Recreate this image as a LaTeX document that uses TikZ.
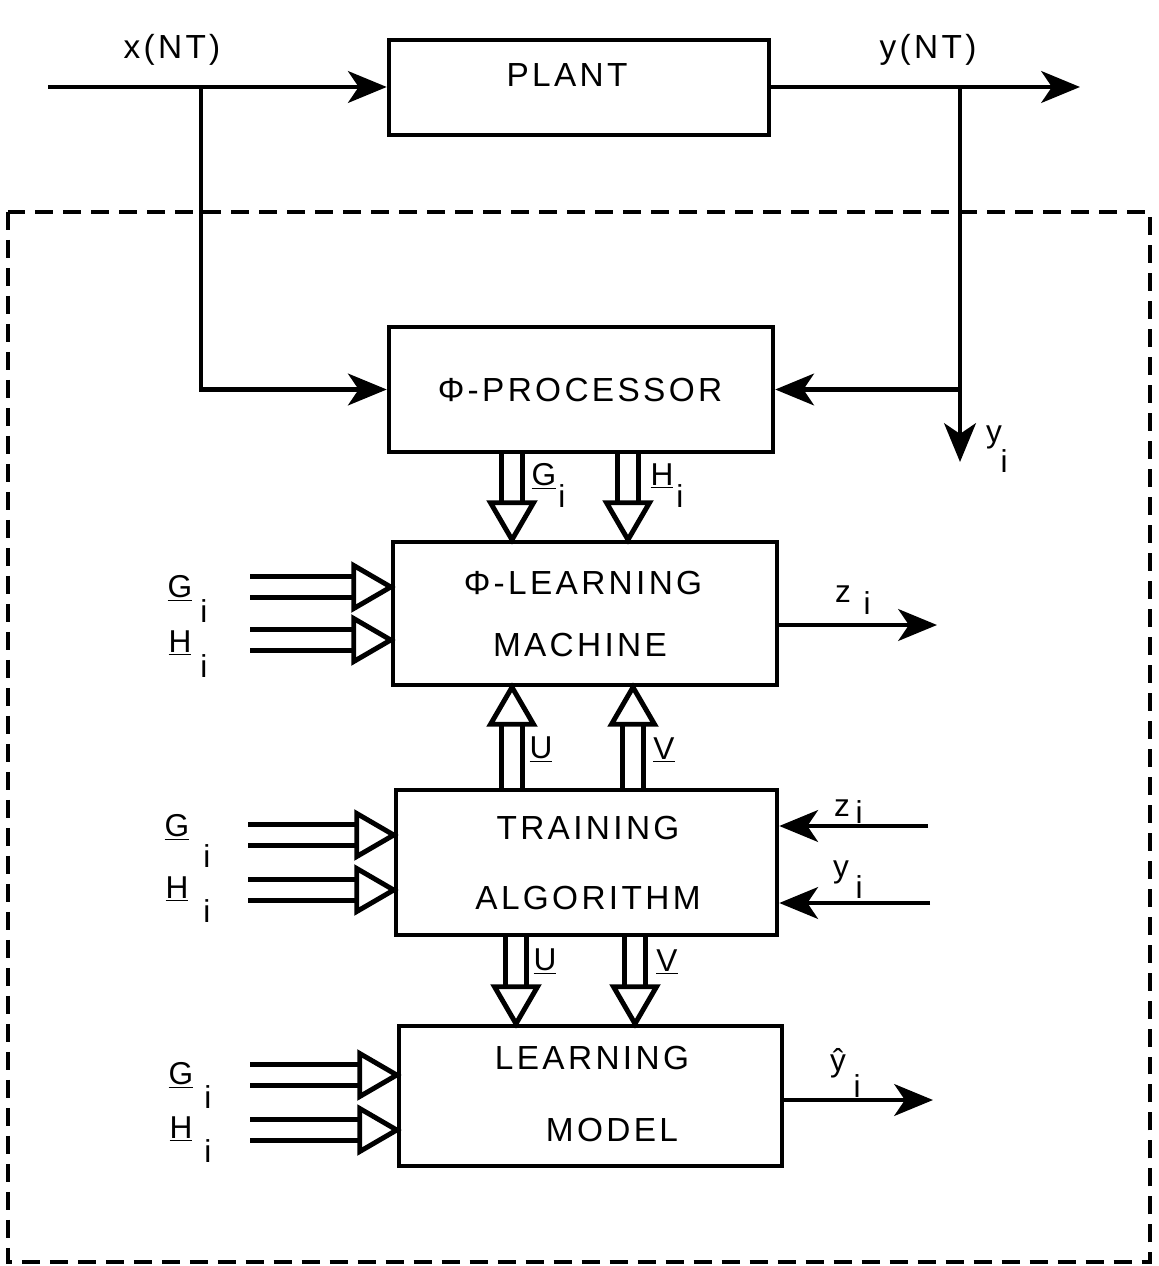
\documentclass[tikz,border=0pt]{standalone}
\usepackage{fontspec}
\setmainfont{Liberation Sans}[LetterSpace=10]
\usetikzlibrary{arrows.meta,calc}

\newcommand\hollowarrow[2]{%
  \coordinate (haS) at (#1);
  \coordinate (haE) at (#2);
  \coordinate (haB) at ($(haE)!0.74cm!(haS)$);
  \draw[hol] ($(haS)!0.21cm!90:(haE)$) -- ($(haB)!0.21cm!-90:(haS)$);
  \draw[hol] ($(haS)!0.21cm!-90:(haE)$) -- ($(haB)!0.21cm!90:(haS)$);
  \draw[hol,line join=miter] ($(haB)!0.43cm!90:(haS)$) -- (haE) -- ($(haB)!0.43cm!-90:(haS)$) -- cycle;
}

\begin{document}
\begin{tikzpicture}[x=0.02cm,y=-0.02cm,line width=2.8pt,
  box/.style={draw,line width=2.6pt,inner sep=0pt},
  txt/.style={inner sep=0pt,font=\fontsize{19}{23}\selectfont},
  lbl/.style={inner sep=0pt,font=\fontsize{18}{20}\selectfont},
  arr/.style={-{Stealth[length=22pt,width=18pt,inset=6pt]}},
  hol/.style={line width=2.8pt},
  frame/.style={line width=2.4pt,dash pattern=on 0.36cm off 0.2cm}]
\useasboundingbox (0,0) rectangle (1158,1266);

% boxes
\node[box,minimum width=7.6cm,minimum height=1.9cm] (plant) at (579,87.5) {};
\node[box,minimum width=7.68cm,minimum height=2.5cm] (proc) at (581,389.5) {};
\node[box,minimum width=7.68cm,minimum height=2.86cm] (lm) at (585,613.5) {};
\node[box,minimum width=7.62cm,minimum height=2.9cm] (ta) at (586.5,862.5) {};
\node[box,minimum width=7.66cm,minimum height=2.8cm] (mod) at (590.5,1096) {};

% box texts
\node[txt] (tplant) at (567,75) {PLANT};
\node[txt] (tproc) at (580,390) {Φ-PROCESSOR};
\node[txt] (tlm1) at (583,583) {Φ-LEARNING};
\node[txt] (tlm2) at (580,645) {MACHINE};
\node[txt] (tta1) at (588,828) {TRAINING};
\node[txt] (tta2) at (588,898) {ALGORITHM};
\node[txt] (tmod1) at (592,1058) {LEARNING};
\node[txt] (tmod2) at (612,1130) {MODEL};

% dashed frame
\draw[frame] (8,212) rectangle (1150,1262);

% plant signals
\node[txt] (lx) at (172,50) {x(NT)};
\node[txt] (ly) at (928,50) {y(NT)};
\coordinate (xin) at (48,87);
\draw[arr] (xin) -- (xin -| plant.west);
\coordinate (xbr) at (201,87);
\draw[arr] (xbr) |- (proc.west);
\coordinate (yout) at (1080,87);
\draw[arr] (yout -| plant.east) -- (yout);
\coordinate (ybr) at (960,87);
\coordinate (yiend) at (960,462);
\draw[arr] (ybr) -- (yiend);
\draw[arr] (ybr |- proc.east) -- (proc.east);
\node[lbl] (lyi) at (994,437) {y};
\node[lbl] (lyii) at (1004,461) {i};

% processor -> learning machine
\hollowarrow{512,0 |- proc.south}{512,0 |- lm.north}
\hollowarrow{628,0 |- proc.south}{628,0 |- lm.north}
\node[lbl] (pg) at (544,476) {\underline{G}};
\node[lbl] (pgi) at (562,496) {i};
\node[lbl] (ph) at (662,476) {\underline{H}};
\node[lbl] (phi) at (680,496) {i};

% learning machine inputs
\hollowarrow{250,587}{250,587 -| lm.west}
\hollowarrow{250,640}{250,640 -| lm.west}
\node[lbl] (lmg) at (180,588) {\underline{G}};
\node[lbl] (lmgi) at (204,611) {i};
\node[lbl] (lmh) at (180,643) {\underline{H}};
\node[lbl] (lmhi) at (204,666) {i};
\coordinate (zout) at (937,625);
\draw[arr] (zout -| lm.east) -- (zout);
\node[lbl] (lz) at (843,594) {z};
\node[lbl] (lzi) at (867,603) {i};

% training -> learning machine
\hollowarrow{512,0 |- ta.north}{512,0 |- lm.south}
\hollowarrow{633,0 |- ta.north}{633,0 |- lm.south}
\node[lbl] (lu1) at (541,750) {\underline{U}};
\node[lbl] (lv1) at (664,750) {\underline{V}};

% training inputs
\hollowarrow{248,835}{248,835 -| ta.west}
\hollowarrow{248,890}{248,890 -| ta.west}
\node[lbl] (tag) at (177,827) {\underline{G}};
\node[lbl] (tagi) at (207,856) {i};
\node[lbl] (tah) at (177,889) {\underline{H}};
\node[lbl] (tahi) at (207,911) {i};
\coordinate (zin) at (928,826);
\draw[arr] (zin) -- (zin -| ta.east);
\coordinate (yin) at (930,903);
\draw[arr] (yin) -- (yin -| ta.east);
\node[lbl] (taz) at (842,808) {z};
\node[lbl] (tazi) at (859,812) {i};
\node[lbl] (tay) at (841,872) {y};
\node[lbl] (tayi) at (859,887) {i};

% training -> model
\hollowarrow{516,0 |- ta.south}{516,0 |- mod.north}
\hollowarrow{635,0 |- ta.south}{635,0 |- mod.north}
\node[lbl] (lu2) at (545,962) {\underline{U}};
\node[lbl] (lv2) at (667,962) {\underline{V}};

% model inputs
\hollowarrow{250,1075}{250,1075 -| mod.west}
\hollowarrow{250,1130}{250,1130 -| mod.west}
\node[lbl] (mg) at (181,1075) {\underline{G}};
\node[lbl] (mgi) at (208,1097) {i};
\node[lbl] (mh) at (181,1129) {\underline{H}};
\node[lbl] (mhi) at (208,1151) {i};
\coordinate (yhat) at (933,1100);
\draw[arr] (yhat -| mod.east) -- (yhat);
\node[lbl] (my) at (838,1063) {\^{y}};
\node[lbl] (myi) at (857,1086) {i};
\end{tikzpicture}
\end{document}
